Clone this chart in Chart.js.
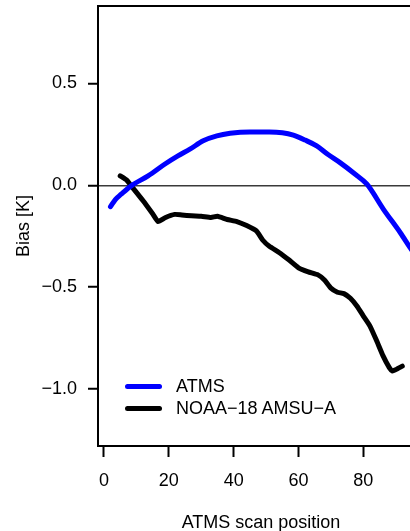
<!DOCTYPE html>
<html><head><meta charset="utf-8">
<script src="https://cdn.jsdelivr.net/npm/chart.js@4"></script>
<style>
html,body{margin:0;padding:0;background:#fff;overflow:hidden;width:410px;height:531px;}
#wrap{position:relative;width:430px;height:531px;}
canvas{display:block}
#legend{position:absolute;left:125px;top:375px;font-family:"Liberation Sans",Arial,Helvetica,sans-serif;font-size:18px;color:#000;}
.item{display:flex;align-items:center;height:22px;white-space:nowrap;}
.swatch{width:37px;height:5px;border-radius:3px;margin-right:14px;}
</style></head><body>
<div id="wrap"><canvas id="c" width="430" height="531"></canvas><div id="legend"></div></div>
<script>
// ---- data ----
const seriesNames = ['ATMS', 'NOAA\u221218 AMSU\u2212A'];
const seriesColors = ['#0000ff', '#000000'];
const scanATMS = [2,3.5,5.3,8.4,13.6,18.7,22.8,26.5,30.6,34.8,38.9,45,51,55,58.4,62,65.6,69,72.8,77,81.1,86.2,91.4,94.4,95];
const biasATMS = [-0.105,-0.07,-0.044,-0.003,0.046,0.103,0.144,0.177,0.218,0.242,0.255,0.262,0.262,0.258,0.246,0.222,0.193,0.152,0.111,0.06,0.005,-0.118,-0.233,-0.306,-0.32];
const scanNOAA = [5,7,8.4,12,15,16.7,19,21.8,24,27,30,33,35,38,41,44,47,49,51,54,57,60,63,66,68,70,72,74,76,78,80,82,84,86,88,89,90,92];
const biasNOAA = [0.046,0.025,-0.003,-0.075,-0.14,-0.178,-0.158,-0.143,-0.146,-0.150,-0.152,-0.158,-0.152,-0.168,-0.178,-0.198,-0.224,-0.27,-0.30,-0.33,-0.366,-0.405,-0.425,-0.44,-0.465,-0.505,-0.525,-0.532,-0.555,-0.593,-0.642,-0.69,-0.76,-0.835,-0.895,-0.912,-0.905,-0.888];
const xTicks = [0,20,40,60,80];
const xTickLabels = ['0','20','40','60','80'];
const yTicks = [-1.0,-0.5,0.0,0.5];
const yTickLabels = ['\u22121.0','\u22120.5','0.0','0.5'];

const FONT = '"Liberation Sans", Arial, Helvetica, sans-serif';
Chart.defaults.font.family = FONT;
Chart.defaults.font.size = 18;
Chart.defaults.color = '#000';

const pts = (xs, ys) => xs.map((x, i) => ({x: x, y: ys[i]}));
const noPad = s => { s.paddingTop = 0; s.paddingBottom = 0; s.paddingLeft = 0; s.paddingRight = 0; };

new Chart(document.getElementById('c'), {
  type: 'line',
  data: {
    datasets: [
      {label: seriesNames[0], data: pts(scanATMS, biasATMS), borderColor: seriesColors[0], backgroundColor: seriesColors[0],
       borderWidth: 5, pointRadius: 0, cubicInterpolationMode: 'monotone', borderCapStyle: 'round', borderJoinStyle: 'round', fill: false},
      {label: seriesNames[1], data: pts(scanNOAA, biasNOAA), borderColor: seriesColors[1], backgroundColor: seriesColors[1],
       borderWidth: 5, pointRadius: 0, tension: 0.15, borderCapStyle: 'round', borderJoinStyle: 'round', fill: false}
    ]
  },
  options: {
    responsive: false,
    animation: false,
    layout: {padding: {left: 0, right: 6, top: 0, bottom: 0}},
    plugins: {legend: {display: false}, tooltip: {enabled: false}},
    scales: {
      x: {
        type: 'linear', position: 'bottom', min: -1.85, max: 98.7,
        afterBuildTicks: s => { s.ticks = xTicks.map(v => ({value: v})); },
        afterFit: s => { s.height = 85; noPad(s); },
        ticks: {padding: 13, maxRotation: 0, autoSkip: false, color: '#000',
                callback: v => { const i = xTicks.indexOf(v); return i >= 0 ? xTickLabels[i] : ''; }},
        grid: {drawOnChartArea: false, drawTicks: true, tickLength: 11, tickColor: '#000', tickWidth: 2, color: '#000'},
        border: {display: true, color: '#000', width: 2},
        title: {display: true, text: 'ATMS scan position', color: '#000', font: {size: 18, lineHeight: 1.2}, padding: {top: 0, bottom: -3}}
      },
      x2: {
        type: 'linear', position: 'top', min: -1.85, max: 98.7,
        afterFit: s => { s.height = 6; noPad(s); },
        ticks: {display: false},
        grid: {display: false, drawTicks: false},
        border: {display: true, color: '#000', width: 2}
      },
      y: {
        type: 'linear', position: 'left', min: -1.28, max: 0.88,
        afterBuildTicks: s => { s.ticks = yTicks.map(v => ({value: v})); },
        afterFit: s => { s.width = 98; noPad(s); },
        ticks: {padding: 11, color: '#000',
                callback: v => { const i = yTicks.indexOf(v); return i >= 0 ? yTickLabels[i] : ''; }},
        grid: {drawOnChartArea: true, drawTicks: true, tickLength: 10, tickColor: '#000', tickWidth: 2,
               lineWidth: 1.5, color: c => (c.tick && c.tick.value === 0) ? '#3a3a3a' : 'rgba(0,0,0,0)'},
        border: {display: true, color: '#000', width: 2},
        title: {display: true, text: 'Bias [K]', color: '#000', font: {size: 18, lineHeight: 1.2}, padding: {top: 13, bottom: 0}}
      }
    }
  }
});

// legend (HTML) built from series arrays
const lg = document.getElementById('legend');
seriesNames.forEach((n, i) => {
  const it = document.createElement('div'); it.className = 'item';
  const sw = document.createElement('div'); sw.className = 'swatch'; sw.style.background = seriesColors[i];
  const tx = document.createElement('span'); tx.textContent = n;
  it.appendChild(sw); it.appendChild(tx); lg.appendChild(it);
});
</script>
</body></html>
